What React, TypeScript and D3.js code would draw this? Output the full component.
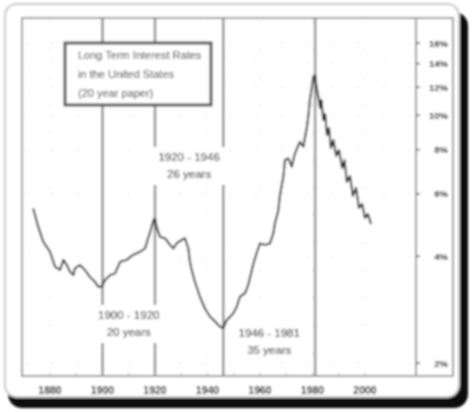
import { useEffect } from "react";
import * as d3 from "d3";

// long term rates (year, % yield)
const years = [
  1873.6, 1875.5, 1877.4, 1880.0, 1881.9, 1883.8, 1885.1, 1886.4, 1887.6, 1888.9,
  1889.5, 1891.4, 1893.3, 1895.2, 1897.1, 1898.4, 1899.7, 1901.0, 1902.9, 1904.8,
  1906.7, 1909.2, 1911.7, 1914.3, 1916.2, 1918.1, 1919.4, 1920.0, 1920.6, 1921.9,
  1923.8, 1925.7, 1927.0, 1928.2, 1930.2, 1931.4, 1932.7, 1933.3, 1934.0, 1935.2,
  1937.1, 1939.0, 1941.0, 1942.9, 1944.8, 1946.0, 1947.3, 1948.6, 1949.8, 1951.1,
  1952.4, 1954.3, 1955.5, 1957.5, 1958.7, 1960.0, 1961.9, 1963.8, 1965.1, 1965.7,
  1967.0, 1967.6, 1968.9, 1969.5, 1970.8, 1972.1, 1973.3, 1975.2, 1976.5, 1977.1,
  1977.8, 1978.4, 1979.0, 1979.7, 1980.3, 1981.0, 1981.6, 1982.2, 1982.9, 1983.4,
  1984.1, 1984.8, 1985.5, 1986.3, 1987.0, 1988.0, 1989.0, 1990.1, 1991.3, 1992.2,
  1993.1, 1994.3, 1995.4, 1996.6, 1997.7, 1998.9, 2000.0, 2001.1, 2002.3,
];
const rates = [
  5.46, 4.85, 4.40, 4.12, 3.74, 3.66, 3.91, 3.78, 3.62, 3.54,
  3.70, 3.78, 3.66, 3.50, 3.39, 3.28, 3.28, 3.43, 3.54, 3.58,
  3.86, 3.91, 4.04, 4.12, 4.21, 4.68, 5.06, 5.12, 4.85, 4.54,
  4.50, 4.31, 4.21, 4.35, 4.45, 4.50, 4.21, 3.86, 3.66, 3.39,
  3.08, 2.85, 2.70, 2.62, 2.53, 2.51, 2.64, 2.70, 2.76, 2.88,
  3.08, 3.15, 3.32, 3.82, 4.08, 4.35, 4.31, 4.35, 4.65, 4.96,
  5.40, 5.96, 6.71, 7.48, 7.56, 7.16, 7.81, 8.42, 8.15, 8.63,
  9.21, 9.91, 11.05, 11.94, 12.85, 12.99, 11.94, 11.34, 10.49, 11.05,
  9.70, 10.09, 8.80, 9.21, 8.09, 8.52, 7.68, 7.98, 7.10, 7.48,
  6.48, 6.74, 5.92, 6.24, 5.48, 5.62, 5.13, 5.27, 4.93,
];

const xTicks = [1880, 1900, 1920, 1940, 1960, 1980, 2000];
const yTicks = [2, 4, 6, 8, 10, 12, 14, 16];
const cycleYears = [1900, 1920, 1946, 1981];
const cycleLabels = [
  { from: 1900, to: 1920, text: "1900 - 1920", sub: "20 years", row: "low" },
  { from: 1920, to: 1946, text: "1920 - 1946", sub: "26 years", row: "high" },
  { from: 1946, to: 1981, text: "1946 - 1981", sub: "35 years", row: "low2" },
];
const titleLines = ["Long Term Interest Rates", "in the United States", "(20 year paper)"];

const font = "'Liberation Sans', Arial, sans-serif";

export default function App() {
  useEffect(() => {
    document.body.style.margin = "0";
  }, []);

  const W = 472;
  const H = 412;
  const plot = { left: 22, top: 18, right: 416, bottom: 376, axisRight: 453 };

  const x = d3.scaleLinear().domain([1880, 2000]).range([50, 365]);
  const y = d3.scaleLog().domain([2, 16]).range([363, 43]);

  const line = d3
    .line<number>()
    .x((_, i) => x(years[i]))
    .y((d) => y(d));

  const labelY: Record<string, number> = { low: 316, high: 158, low2: 334 };

  return (
    <svg width={W} height={H} style={{ display: "block", background: "#fff" }}>
      <defs>
        <filter id="soft" x="-5%" y="-5%" width="110%" height="110%">
          <feGaussianBlur stdDeviation="0.8" />
        </filter>
      </defs>
      <g filter="url(#soft)">
        {/* card + shadow */}
        <rect x={8} y={12} width={460} height={396} rx={14} fill="#111" />
        <rect x={5} y={4} width={454} height={393} rx={12} fill="#fff" stroke="#c8c8c8" strokeWidth={2} />

        {/* plot frame */}
        <rect
          x={plot.left}
          y={plot.top}
          width={plot.axisRight - plot.left}
          height={plot.bottom - plot.top}
          fill="#fff"
          stroke="#9a9a9a"
          strokeWidth={2}
        />
        <line x1={plot.right} x2={plot.right} y1={plot.top} y2={plot.bottom} stroke="#9a9a9a" strokeWidth={2} />

        {/* faint dotted grid */}
        {yTicks.map((t) => (
          <line
            key={"gy" + t}
            x1={plot.left + 4}
            x2={plot.right - 2}
            y1={y(t)}
            y2={y(t)}
            stroke="#d6d6d6"
            strokeDasharray="1.5,24"
          />
        ))}
        {xTicks.map((t) => (
          <line
            key={"gx" + t}
            x1={x(t)}
            x2={x(t)}
            y1={plot.top + 4}
            y2={plot.bottom - 2}
            stroke="#dedede"
            strokeDasharray="1.5,26"
          />
        ))}

        {/* cycle dividers */}
        {cycleYears.map((yr) => (
          <line
            key={"c" + yr}
            x1={x(yr)}
            x2={x(yr)}
            y1={plot.top}
            y2={plot.bottom}
            stroke="#8a8a8a"
            strokeWidth={2.4}
          />
        ))}

        {/* rate curve */}
        <path d={line(rates) ?? ""} fill="none" stroke="#222" strokeWidth={2} strokeLinejoin="round" />

        {/* cycle labels */}
        {cycleLabels.map((c) => {
          const cx = x((c.from + c.to) / 2);
          const ty = labelY[c.row];
          return (
            <g key={c.text} fontFamily={font} fontSize={11.5} fill="#000" textAnchor="middle">
              <rect x={cx - 38} y={ty - 11} width={76} height={38} fill="#fff" />
              <text x={cx} y={ty + 3}>{c.text}</text>
              <text x={cx} y={ty + 20}>{c.sub}</text>
            </g>
          );
        })}

        {/* title box */}
        <rect x={65} y={43} width={146} height={62} fill="#fff" stroke="#555" strokeWidth={3} />
        {titleLines.map((t, i) => (
          <text key={t} x={78} y={59 + i * 19} fontFamily={font} fontSize={11} fill="#333">
            {t}
          </text>
        ))}

        {/* right axis */}
        {yTicks.map((t) => (
          <g key={"yt" + t}>
            <line x1={plot.right} x2={plot.right + 4} y1={y(t)} y2={y(t)} stroke="#555" strokeWidth={1.5} />
            <text
              x={448}
              y={y(t) + 3.5}
              textAnchor="end"
              fontFamily={font}
              fontSize={9.5}
              fontWeight="bold"
              fill="#111"
            >
              {t}%
            </text>
          </g>
        ))}

        {/* bottom axis */}
        {d3.range(1880, 2010, 10).map((t) => (
          <line key={"bt" + t} x1={x(t)} x2={x(t)} y1={plot.bottom} y2={plot.bottom - 3} stroke="#aaa" />
        ))}
        {xTicks.map((t) => (
          <text
            key={"xt" + t}
            x={x(t)}
            y={394}
            textAnchor="middle"
            fontFamily={font}
            fontSize={10.5}
            fontWeight="bold"
            fill="#111"
          >
            {t}
          </text>
        ))}
      </g>
    </svg>
  );
}
